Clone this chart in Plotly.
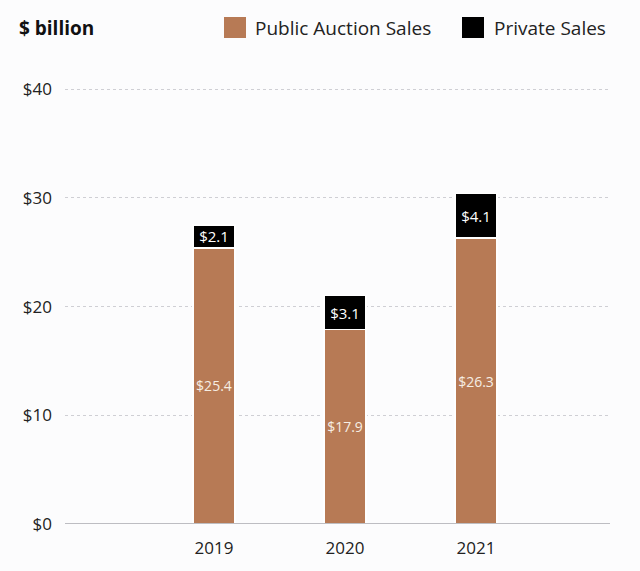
import plotly.graph_objects as go

years = [2019, 2020, 2021]
year_labels = ["2019", "2020", "2021"]
public_sales = [25.4, 17.9, 26.3]
private_sales = [2.1, 3.1, 4.1]
public_text = ["$25.4", "$17.9", "$26.3"]
private_text = ["$2.1", "$3.1", "$4.1"]
y_ticks = [0, 10, 20, 30, 40]
y_tick_labels = ["$0", "$10", "$20", "$30", "$40"]
series_names = ["Public Auction Sales", "Private Sales"]

FONT = "Open Sans"
ORANGE = "#B77A55"
BLACK = "#000000"

# plot-area geometry (pixels) for converting to paper coordinates
L, R, T, B = 65, 610, 87, 524
def px(x):
    return (x - L) / (R - L)
def py(y):
    return (B - y) / (B - T)

fig = go.Figure()
fig.add_trace(go.Bar(
    x=years, y=public_sales, name=series_names[0],
    marker=dict(color=ORANGE, line=dict(color="white", width=1.5)),
    width=0.32, text=public_text, textposition="inside", textangle=0,
    insidetextanchor="middle", constraintext="none",
    textfont=dict(color="#F6EEE4", size=14, family=FONT),
))
fig.add_trace(go.Bar(
    x=years, y=private_sales, name=series_names[1],
    marker=dict(color=BLACK, line=dict(color="white", width=1.5)),
    width=0.32, text=private_text, textposition="inside", textangle=0,
    insidetextanchor="middle", constraintext="none",
    textfont=dict(color="white", size=15, family=FONT),
))

shapes = [
    dict(type="line", xref="paper", yref="y", x0=0, x1=1, y0=0, y1=0,
         line=dict(color="#A8A8AE", width=1.5)),
    dict(type="rect", xref="paper", yref="paper", x0=px(224), x1=px(246),
         y0=py(38), y1=py(17), fillcolor=ORANGE, line=dict(width=0)),
    dict(type="rect", xref="paper", yref="paper", x0=px(462), x1=px(484),
         y0=py(38), y1=py(17), fillcolor=BLACK, line=dict(width=0)),
]
annotations = [
    dict(text="<b>$ billion</b>", x=px(17), y=py(28), xref="paper", yref="paper",
         xanchor="left", yanchor="middle", showarrow=False,
         font=dict(size=19, color="#111111", family=FONT)),
    dict(text=series_names[0], x=px(253), y=py(28), xref="paper", yref="paper",
         xanchor="left", yanchor="middle", showarrow=False,
         font=dict(size=19, color="#222222", family=FONT)),
    dict(text=series_names[1], x=px(492), y=py(28), xref="paper", yref="paper",
         xanchor="left", yanchor="middle", showarrow=False,
         font=dict(size=19, color="#222222", family=FONT)),
]

fig.update_layout(
    barmode="stack",
    width=640, height=571,
    margin=dict(l=L, r=640 - R, t=T, b=571 - B),
    paper_bgcolor="#FCFCFD", plot_bgcolor="#FCFCFD",
    font=dict(family=FONT, color="#222222", size=17),
    showlegend=False,
    shapes=shapes,
    annotations=annotations,
    xaxis=dict(type="linear", range=[2017.863, 2022.023], tickvals=years,
               ticktext=year_labels, showgrid=False, zeroline=False,
               showline=False, ticks="", ticklabelstandoff=12,
               tickfont=dict(size=17, color="#222222")),
    yaxis=dict(range=[0, 40.2], tickvals=y_ticks, ticktext=y_tick_labels,
               showgrid=True, gridcolor="#CFCFD4", griddash="dot", gridwidth=1,
               zeroline=False, showline=False, ticks="", ticklabelstandoff=12,
               tickfont=dict(size=17, color="#222222")),
)
fig.write_html("out.html")
